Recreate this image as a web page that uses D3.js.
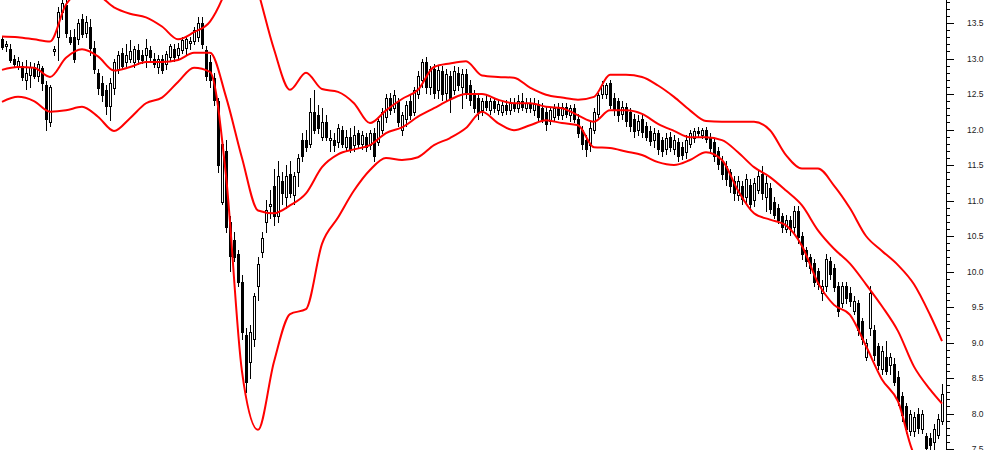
<!DOCTYPE html>
<html><head><meta charset="utf-8">
<script src="https://cdn.jsdelivr.net/npm/d3@7"></script>
<style>body{margin:0;background:#fff;} svg{display:block}</style>
</head><body>
<svg id="c" width="994" height="450"></svg>
<script>
const opens = [
13.27,13.17,13.13,12.99,12.88,12.90,12.70,12.77,12.88,12.76,
12.86,12.62,12.10,13.10,13.30,13.66,13.75,13.30,13.30,13.27,
13.55,13.36,13.45,13.15,12.80,12.65,12.55,12.33,12.58,12.85,
13.08,12.95,13.00,12.95,13.12,13.05,13.05,13.12,13.00,12.88,
13.00,12.92,13.02,13.14,13.05,13.12,13.15,13.22,13.25,13.30,
13.50,13.12,12.95,12.72,12.40,10.98,11.70,10.70,10.45,10.25,
9.85,9.10,8.73,9.05,9.80,10.28,10.70,10.92,11.20,10.78,
11.28,11.05,11.38,11.08,11.40,11.85,11.85,11.80,12.25,12.20,
11.90,12.10,11.85,11.85,11.82,12.00,11.76,11.90,11.78,11.95,
11.80,11.90,11.78,11.95,11.82,12.00,12.18,12.45,12.30,12.40,
12.00,12.15,12.40,12.25,12.50,12.70,12.95,12.60,12.85,12.55,
12.82,12.52,12.75,12.55,12.80,12.60,12.78,12.62,12.48,12.45,
12.28,12.40,12.28,12.40,12.28,12.25,12.35,12.27,12.38,12.30,
12.40,12.30,12.38,12.28,12.36,12.30,12.25,12.12,12.18,12.30,
12.20,12.32,12.20,12.30,12.15,12.00,11.85,11.78,12.00,12.22,
12.50,12.50,12.66,12.45,12.40,12.22,12.32,12.25,12.15,12.00,
12.15,12.05,11.98,11.85,11.95,11.85,11.72,11.90,11.72,11.82,
11.75,11.68,11.80,11.88,11.98,11.92,11.99,11.90,11.82,11.70,
11.55,11.48,11.40,11.28,11.08,11.20,11.05,11.22,11.00,11.15,
11.38,11.05,11.18,10.98,10.90,10.78,10.60,10.72,10.62,10.85,
10.50,10.30,10.20,10.12,10.00,9.70,9.80,10.15,10.05,9.80,
9.55,9.80,9.70,9.45,9.55,9.30,8.80,9.20,9.18,8.95,
8.62,8.80,8.68,8.70,8.52,8.25,8.10,7.75,7.76,8.00,
7.78,7.68,7.66,7.60,7.70,7.90];
const highs = [
13.30,13.25,13.20,13.05,13.02,12.95,12.98,12.95,12.93,12.97,
12.90,12.68,12.62,13.18,13.72,13.85,13.85,13.40,13.42,13.55,
13.62,13.60,13.55,13.25,12.85,12.75,12.62,12.72,13.00,13.10,
13.15,13.20,13.26,13.18,13.20,13.12,13.28,13.18,13.08,13.05,
13.05,13.10,13.20,13.20,13.22,13.30,13.32,13.30,13.45,13.58,
13.58,13.18,13.05,12.80,12.45,11.85,11.85,10.78,10.55,10.30,
9.95,9.20,9.25,9.70,10.20,10.55,11.00,11.15,11.45,11.55,
11.40,11.50,11.55,11.40,11.65,11.95,12.00,12.45,12.55,12.35,
12.30,12.20,12.00,11.95,12.08,12.05,12.00,12.02,12.05,12.00,
11.98,11.95,12.00,12.02,12.15,12.30,12.50,12.52,12.55,12.45,
12.25,12.40,12.50,12.60,12.82,13.00,13.02,12.90,12.92,12.90,
12.90,12.85,12.82,12.90,12.88,12.85,12.85,12.70,12.55,12.52,
12.45,12.48,12.45,12.45,12.42,12.40,12.42,12.45,12.45,12.48,
12.52,12.45,12.45,12.44,12.42,12.38,12.32,12.32,12.36,12.38,
12.38,12.38,12.35,12.36,12.22,12.05,11.92,12.10,12.30,12.52,
12.68,12.66,12.70,12.52,12.45,12.40,12.38,12.30,12.22,12.20,
12.20,12.10,12.05,12.02,12.00,11.90,11.95,11.96,11.92,11.88,
11.82,11.92,12.00,12.02,12.03,12.02,12.03,11.95,11.88,11.75,
11.62,11.55,11.45,11.35,11.35,11.28,11.38,11.30,11.32,11.42,
11.48,11.35,11.25,11.05,10.95,10.82,10.80,10.78,10.92,10.92,
10.55,10.35,10.25,10.18,10.05,9.88,10.25,10.20,10.10,9.85,
9.85,9.85,9.78,9.65,9.60,9.35,9.05,9.80,9.25,9.00,
8.95,9.02,8.85,8.78,8.60,8.30,8.15,8.05,8.02,8.08,
8.05,7.72,7.72,7.85,8.00,8.42];
const lows = [
13.13,13.10,12.95,12.88,12.85,12.70,12.57,12.60,12.72,12.68,
12.55,12.00,12.05,13.05,12.98,13.55,13.30,13.20,12.95,13.20,
13.30,13.30,13.05,12.80,12.50,12.40,12.22,12.13,12.50,12.80,
12.85,12.90,12.95,12.88,12.92,12.93,12.88,12.98,12.88,12.80,
12.80,12.85,12.97,12.97,13.00,13.08,13.05,13.13,13.20,13.25,
13.15,12.70,12.60,12.35,11.40,10.95,10.55,10.00,10.15,9.80,
9.05,8.30,8.50,8.95,9.60,10.20,10.55,10.75,10.65,10.70,
10.95,10.90,11.05,10.95,11.20,11.55,11.70,11.75,11.95,11.95,
11.85,11.85,11.70,11.70,11.75,11.75,11.70,11.68,11.70,11.75,
11.72,11.70,11.72,11.55,11.78,11.95,12.10,12.22,12.25,12.05,
11.92,12.05,12.15,12.20,12.45,12.60,12.52,12.50,12.45,12.45,
12.42,12.40,12.25,12.50,12.55,12.30,12.45,12.35,12.25,12.15,
12.20,12.28,12.22,12.25,12.22,12.20,12.22,12.22,12.26,12.25,
12.28,12.25,12.25,12.20,12.12,12.10,12.00,12.08,12.12,12.15,
12.15,12.18,12.12,12.10,11.90,11.72,11.62,11.70,11.95,12.18,
12.45,12.45,12.30,12.20,12.12,12.15,12.05,11.98,11.90,11.92,
11.90,11.85,11.78,11.75,11.65,11.62,11.65,11.70,11.65,11.55,
11.58,11.60,11.75,11.82,11.90,11.88,11.82,11.68,11.55,11.45,
11.30,11.22,11.12,11.00,11.00,10.95,10.98,10.88,10.92,11.10,
11.02,10.85,10.82,10.75,10.68,10.55,10.55,10.52,10.55,10.40,
10.18,10.08,9.98,9.80,9.75,9.60,9.72,9.90,9.72,9.38,
9.50,9.55,9.52,9.40,9.10,8.98,8.75,9.10,8.75,8.62,
8.55,8.55,8.55,8.40,8.12,7.90,7.72,7.70,7.68,7.72,
7.72,7.46,7.48,7.50,7.65,7.85];
const closes = [
13.16,13.21,12.98,12.92,12.97,12.74,12.80,12.88,12.76,12.92,
12.66,12.15,12.60,13.14,13.66,13.78,13.36,13.23,13.00,13.50,
13.34,13.52,13.15,12.85,12.58,12.48,12.33,12.65,12.95,13.05,
12.90,13.05,13.10,13.14,12.99,12.98,13.15,13.02,12.92,13.00,
12.84,13.06,13.17,13.02,13.15,13.26,13.28,13.25,13.40,13.50,
13.20,12.76,12.70,12.42,11.50,11.80,10.62,10.22,10.20,9.85,
9.15,8.45,9.15,9.65,10.10,10.47,10.87,10.95,10.78,11.35,
11.10,11.35,11.10,11.35,11.60,11.63,11.75,12.25,12.00,12.02,
12.10,11.90,11.88,11.78,12.02,11.80,11.90,11.72,11.92,11.80,
11.92,11.75,11.95,11.62,12.12,12.25,12.45,12.28,12.48,12.10,
12.20,12.35,12.20,12.55,12.75,12.95,12.60,12.85,12.52,12.84,
12.50,12.78,12.45,12.82,12.62,12.78,12.52,12.42,12.30,12.25,
12.40,12.32,12.40,12.30,12.36,12.35,12.27,12.38,12.30,12.40,
12.32,12.38,12.30,12.36,12.18,12.15,12.08,12.28,12.30,12.20,
12.32,12.22,12.30,12.15,11.95,11.80,11.72,12.02,12.25,12.48,
12.63,12.62,12.35,12.28,12.20,12.32,12.12,12.05,11.98,12.12,
11.96,11.90,11.84,11.95,11.72,11.70,11.88,11.76,11.85,11.62,
11.64,11.85,11.95,11.98,11.95,11.99,11.86,11.74,11.62,11.52,
11.38,11.30,11.20,11.10,11.28,11.02,11.30,10.95,11.25,11.35,
11.10,11.25,10.88,10.80,10.72,10.62,10.72,10.60,10.85,10.48,
10.25,10.15,10.05,9.85,9.82,9.80,10.18,9.96,9.78,9.45,
9.80,9.62,9.58,9.58,9.18,9.05,9.00,9.70,8.82,8.68,
8.88,8.60,8.80,8.45,8.18,7.98,7.78,8.00,7.95,7.80,
8.00,7.52,7.55,7.78,7.92,8.28];

const bandIdx = [0,4,8,12,16,20,24,28,32,36,40,44,48,52,56,60,64,68,72,76,
80,84,88,92,96,100,104,108,112,116,120,124,128,132,136,140,144,148,152,156,
160,164,168,172,176,180,184,188,192,196,200,204,208,212,216,220,224,228,232,235];
const upperBand = [
13.31,13.30,13.27,13.24,13.76,13.93,13.89,13.72,13.63,13.58,
13.45,13.27,13.37,13.52,13.97,14.68,13.95,13.13,12.56,12.80,
12.57,12.53,12.37,12.09,12.27,12.43,12.56,12.88,12.93,12.96,
12.76,12.74,12.73,12.59,12.49,12.45,12.42,12.46,12.77,12.77,
12.74,12.62,12.46,12.27,12.12,12.11,12.11,12.11,11.99,11.64,
11.45,11.45,11.21,10.89,10.50,10.29,10.09,9.82,9.39,9.02];
const middleBand = [
12.84,12.88,12.87,12.74,13.01,13.13,13.03,12.83,12.88,12.95,
12.95,12.98,13.08,13.08,12.46,11.60,10.86,10.82,10.93,11.10,
11.47,11.65,11.72,11.78,11.95,12.03,12.18,12.30,12.42,12.50,
12.50,12.42,12.37,12.37,12.32,12.30,12.20,12.11,12.27,12.27,
12.22,12.08,11.98,11.89,11.89,11.85,11.68,11.47,11.33,11.14,
10.93,10.58,10.32,10.11,9.82,9.51,9.16,8.66,8.34,8.14];
const lowerBand = [
12.39,12.46,12.40,12.25,12.27,12.32,12.18,11.98,12.16,12.37,
12.45,12.67,12.87,12.81,11.35,8.59,7.77,8.73,9.40,9.47,
10.39,10.76,11.14,11.43,11.60,11.57,11.61,11.78,11.88,12.02,
12.25,12.09,11.99,12.06,12.13,12.09,12.06,11.75,11.74,11.69,
11.64,11.54,11.50,11.57,11.68,11.57,11.14,10.82,10.73,10.65,
10.36,9.84,9.53,9.39,8.95,8.48,8.17,7.43,7.25,7.11];

const majorTicks = [7.5,8.0,8.5,9.0,9.5,10.0,10.5,11.0,11.5,12.0,12.5,13.0,13.5];
const tickLabels = ["7.5","8.0","8.5","9.0","9.5","10.0","10.5","11.0","11.5","12.0","12.5","13.0","13.5"];

const W = 994, H = 450, axisX = 946;
const svg = d3.select("#c");
const x = d3.scaleLinear().domain([0, opens.length - 1]).range([2, 942]);
const y = d3.scaleLinear().domain([7.5, 13.5]).range([449, 23]);

svg.append("defs").append("clipPath").attr("id","plot")
  .append("rect").attr("x",0).attr("y",0).attr("width",axisX).attr("height",H);

const plot = svg.append("g").attr("clip-path","url(#plot)");

// candles
const cg = plot.append("g").attr("shape-rendering","crispEdges");
const idx = d3.range(opens.length);
cg.selectAll("line.w").data(idx).join("line").attr("class","w")
  .attr("x1", i => Math.round(x(i)) + 0.5).attr("x2", i => Math.round(x(i)) + 0.5)
  .attr("y1", i => Math.round(y(highs[i]))).attr("y2", i => Math.round(y(lows[i])) + 1)
  .attr("stroke","#000").attr("stroke-width",1);
cg.selectAll("rect.b").data(idx).join("rect").attr("class","b")
  .attr("x", i => Math.round(x(i)) - 0.5)
  .attr("width", 2)
  .attr("y", i => Math.round(y(Math.max(opens[i], closes[i]))) + 0.5)
  .attr("height", i => Math.max(1, Math.round(y(Math.min(opens[i], closes[i]))) - Math.round(y(Math.max(opens[i], closes[i])))))
  .attr("fill", i => closes[i] >= opens[i] ? "#fff" : "#000")
  .attr("stroke","#000").attr("stroke-width",1);

// bands
const line = d3.line().x((d,k) => x(bandIdx[k])).y(d => y(d)).curve(d3.curveMonotoneX);
[upperBand, middleBand, lowerBand].forEach(b => {
  plot.append("path").datum(b).attr("d", line)
    .attr("fill","none").attr("stroke","#ff0000").attr("stroke-width",2);
});

// axis
const ax = svg.append("g").attr("transform", `translate(${axisX + 0.5},0)`);
ax.append("line").attr("x1",0).attr("x2",0).attr("y1",0).attr("y2",H)
  .attr("stroke","#000").attr("shape-rendering","crispEdges");
const minor = d3.range(75, 139).map(v => v / 10);
const minorAxis = d3.axisRight(y).tickValues(minor).tickSize(3).tickFormat("");
const mg = ax.append("g").call(minorAxis);
mg.select(".domain").remove();
mg.selectAll("line").attr("shape-rendering","crispEdges");
const majorAxis = d3.axisRight(y).tickValues(majorTicks).tickSize(7)
  .tickFormat((d,k) => tickLabels[k]);
const jg = ax.append("g").call(majorAxis);
jg.select(".domain").remove();
jg.selectAll("line").attr("shape-rendering","crispEdges");
jg.selectAll("text").attr("x", 37).attr("text-anchor","end")
  .attr("font-family","'Liberation Sans', Arial, sans-serif").attr("font-size", 8.5)
  .attr("fill","#222");
</script>
</body></html>
